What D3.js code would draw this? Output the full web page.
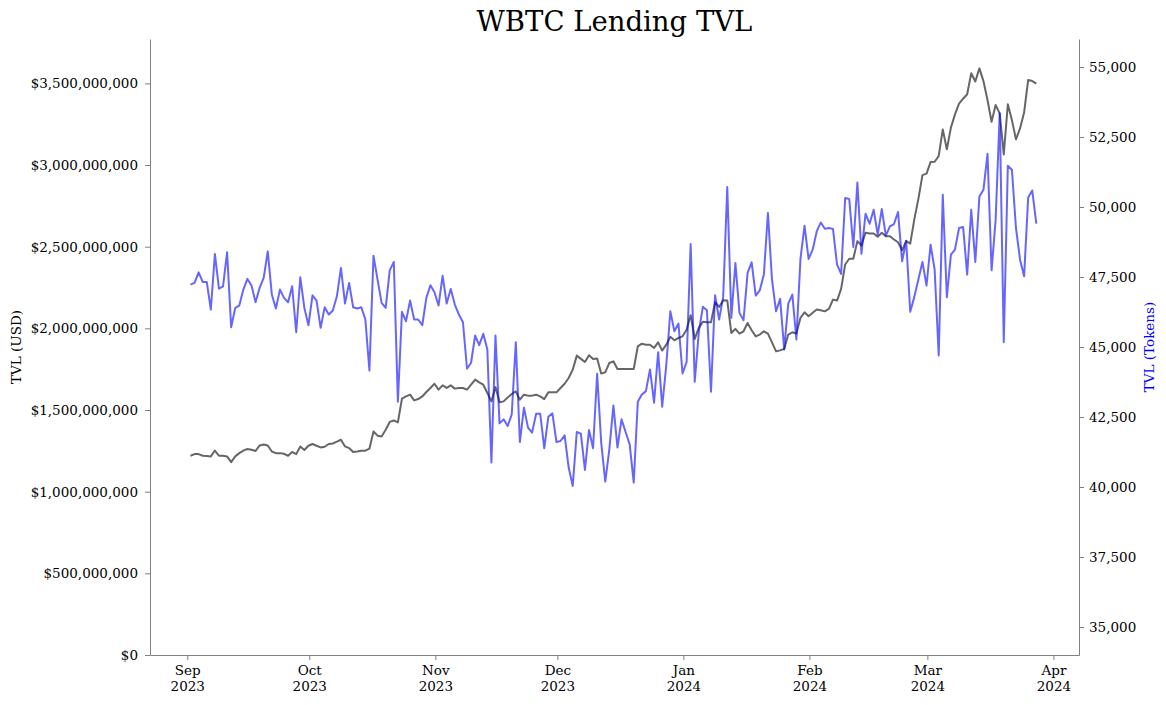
<!DOCTYPE html>
<html>
<head>
<meta charset="utf-8">
<script src="https://cdn.jsdelivr.net/npm/d3@7"></script>
<style>
  body { margin: 0; background: #fff; }
  svg text { font-family: "DejaVu Serif", serif; }
  .axis path, .axis line { stroke: #808080; }
  .axis text { fill: #000; font-size: 13.5px; }
</style>
</head>
<body>
<svg id="chart" width="1166" height="705"></svg>
<script>
// daily observations, first one on 1 Sep 2023
const startDate = new Date(2023, 8, 1, 19);
const xStart = new Date(2023, 7, 22, 20);
const xEnd = new Date(2024, 3, 7, 7);

// TVL in USD, millions
const usdMillions = [
  1220, 1230, 1230, 1220, 1218, 1216, 1252, 1220, 1220, 1216, 1181, 1216, 1236, 1251, 1261, 1257, 1249, 1283, 1289, 1283,
  1246, 1236, 1236, 1232, 1220, 1243, 1230, 1277, 1255, 1281, 1292, 1281, 1271, 1275, 1292,
  1295, 1306, 1318, 1277, 1267, 1243, 1246, 1251, 1251, 1263, 1369, 1343, 1338, 1379, 1427, 1436, 1424, 1569, 1583, 1594,
  1559, 1567, 1583, 1610, 1635, 1661, 1625, 1651, 1635, 1651, 1631, 1635, 1635, 1625,
  1655, 1686, 1669, 1655, 1604, 1553, 1641, 1547, 1553, 1577, 1598, 1614, 1563, 1594, 1588, 1588, 1594, 1583, 1567, 1608,
  1608, 1608, 1635, 1661, 1696, 1747, 1833, 1813, 1794, 1835, 1813, 1815, 1723, 1731,
  1788, 1798, 1751, 1751, 1751, 1751, 1751, 1890, 1906, 1900, 1900, 1880, 1914, 1864, 1900, 1948, 1927, 1941, 1951, 1992,
  2080, 1935, 2003, 2040, 2037, 2037, 2160, 2131, 2172, 2170, 1972, 1997, 1968, 1982, 2033,
  1988, 1951, 1962, 1982, 1968, 1914, 1859, 1865, 1874, 1962, 1976, 1968, 2064, 2098, 2074, 2095, 2115, 2111, 2104, 2119,
  2176, 2170, 2242, 2391, 2426, 2426, 2534, 2507, 2585, 2581, 2581, 2561, 2585, 2564,
  2564, 2544, 2527, 2478, 2534, 2519, 2667, 2793, 2938, 2947, 3018, 3020, 3055, 3218, 3096, 3229, 3310, 3376, 3406, 3433,
  3562, 3511, 3592, 3514, 3398, 3265, 3367, 3316, 3065, 3372, 3275, 3157, 3224, 3321, 3521, 3514, 3498
];

// TVL in WBTC tokens
const tokenValues = [
  47228, 47289, 47667, 47325, 47325, 46337, 48323, 47086, 47168, 48380, 45706, 46398, 46480, 47050, 47432, 47193, 46597, 47111, 47467, 48415,
  46872, 46373, 47050, 46754, 46597, 47168, 45528, 47489, 46398, 45777, 46847, 46658, 45685, 46419, 46159,
  46301, 46811, 47824, 46551, 47289, 46419, 46373, 46419, 45981, 44162, 48262, 47407, 46576, 46398, 47738, 48038, 43047, 46255, 45920, 46658,
  45981, 45981, 45777, 46754, 47203, 46954, 46480, 47549, 46551, 47075, 46515, 46159, 45884, 44223,
  44437, 45410, 45064, 45471, 44911, 40872, 45410, 42273, 42416, 42177, 42594, 45171, 41606, 42833, 42120, 41941, 42619, 42619, 41382, 42512,
  42629, 41606, 41642, 41845, 40694, 40038, 41963, 41906, 40608, 42034, 41382, 44045, 41585, 40195,
  41346, 42915, 41407, 42416, 41963, 41524, 40159, 43047, 43307, 43424, 44198, 43011, 44815, 42868, 44341, 46276, 45563, 45838, 44055, 44458,
  48679, 43760, 45528, 46433, 46312, 43403, 46847, 45981, 46790, 50711, 46041, 48002, 46219, 45956, 47645,
  48023, 46836, 47025, 47585, 49784, 47407, 46276, 46718, 44911, 46551, 46872, 45268, 48145, 49332, 48145, 48476, 49128, 49449, 49225, 49250,
  49214, 47941, 47610, 50319, 50283, 48572, 50875, 48333, 49759, 49403, 49902, 49011, 49927, 48975,
  49307, 49392, 49820, 48059, 48797, 46255, 46790, 47407, 48038, 47193, 48654, 47763, 44697, 50437, 46776, 48298, 48476, 49250, 49285, 47585,
  49902, 48038, 50376, 50615, 51898, 47738, 49546, 53349, 45171, 51471, 51328, 49250, 48120, 47524, 50340, 50590, 49403
];

const usdTicks = [0, 500e6, 1000e6, 1500e6, 2000e6, 2500e6, 3000e6, 3500e6];
const tokenTicks = [35000, 37500, 40000, 42500, 45000, 47500, 50000, 52500, 55000];
const tokenRange = [34000, 56000];

const dates = usdMillions.map((_, i) => d3.timeDay.offset(startDate, i));
const rows = dates.map((d, i) => ({ date: d, usd: usdMillions[i] * 1e6, tokens: tokenValues[i] }));

const svg = d3.select("#chart");
const W = 1166, H = 705;
const margin = { top: 39, right: 87, bottom: 50, left: 150 };
const innerW = W - margin.left - margin.right;
const innerH = H - margin.top - margin.bottom;

const g = svg.append("g").attr("transform", `translate(${margin.left},${margin.top})`);

const x = d3.scaleTime().domain([xStart, xEnd]).range([0, innerW]);
const yUsd = d3.scaleLinear().domain([0, d3.max(rows, d => d.usd) * 1.05]).range([innerH, 0]);
const yTok = d3.scaleLinear().domain(tokenRange).range([innerH, 0]);

/* ---------- axes ---------- */
const fmtComma = d3.format(",");

g.append("g").attr("class", "axis")
  .call(d3.axisLeft(yUsd).tickValues(usdTicks).tickSize(5).tickSizeOuter(0).tickPadding(7)
    .tickFormat(d => "$" + fmtComma(d)));

g.append("g").attr("class", "axis")
  .attr("transform", `translate(${innerW},0)`)
  .call(d3.axisRight(yTok).tickValues(tokenTicks).tickSize(5).tickSizeOuter(0).tickPadding(5)
    .tickFormat(fmtComma));

const xAxisG = g.append("g").attr("class", "axis")
  .attr("transform", `translate(0,${innerH})`)
  .call(d3.axisBottom(x).ticks(d3.timeMonth.every(1)).tickSize(5).tickSizeOuter(0).tickFormat(""));

// two-line month / year labels
xAxisG.selectAll(".tick").append("text")
  .attr("fill", "#000")
  .attr("text-anchor", "middle")
  .each(function(d) {
    const t = d3.select(this);
    t.append("tspan").attr("x", 0).attr("y", 20).text(d3.timeFormat("%b")(d));
    t.append("tspan").attr("x", 0).attr("y", 36).text(d3.timeFormat("%Y")(d));
  });

/* ---------- lines ---------- */
g.append("path")
  .datum(rows)
  .attr("fill", "none")
  .attr("stroke", "#000")
  .attr("stroke-opacity", 0.6)
  .attr("stroke-width", 2)
  .attr("stroke-linejoin", "round")
  .attr("d", d3.line().x(d => x(d.date)).y(d => yUsd(d.usd)));

g.append("path")
  .datum(rows)
  .attr("fill", "none")
  .attr("stroke", "#0000ff")
  .attr("stroke-opacity", 0.6)
  .attr("stroke-width", 2)
  .attr("stroke-linejoin", "round")
  .attr("d", d3.line().x(d => x(d.date)).y(d => yTok(d.tokens)));

/* ---------- labels ---------- */
svg.append("text")
  .attr("x", margin.left + innerW / 2).attr("y", 31)
  .attr("text-anchor", "middle")
  .style("font-size", "27.5px")
  .text("WBTC Lending TVL");

svg.append("text")
  .attr("transform", `translate(21,${margin.top + innerH / 2}) rotate(-90)`)
  .attr("text-anchor", "middle")
  .style("font-size", "13.5px")
  .text("TVL (USD)");

svg.append("text")
  .attr("transform", `translate(1154,${margin.top + innerH / 2}) rotate(-90)`)
  .attr("text-anchor", "middle")
  .style("font-size", "13.5px")
  .attr("fill", "#0000ff")
  .text("TVL (Tokens)");
</script>
</body>
</html>
